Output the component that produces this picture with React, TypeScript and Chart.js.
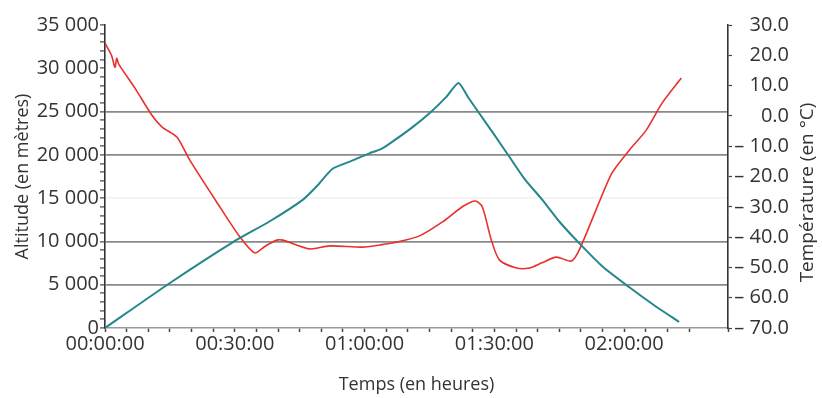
import React, { useEffect, useRef } from "react";
import { Chart, registerables } from "chart.js";

Chart.register(...registerables);

// Altitude series (time in minutes, altitude in metres)
const altTimes = [0, 15.0, 29.5, 38, 45.7, 49, 52.6, 57, 61.2, 63.5, 65.8, 71.1, 75, 78.9, 81.7, 84, 86.5, 90, 93.5, 97, 101.1, 105, 109.6, 115, 121.2, 127, 132.7];
const altValues = [0, 5200, 9900, 12300, 14800, 16400, 18400, 19300, 20200, 20600, 21300, 23200, 24800, 26700, 28300, 26600, 24800, 22300, 19750, 17200, 14800, 12300, 9800, 7100, 4700, 2600, 700];

// Temperature series (time in minutes, °C)
const tempTimes = [0, 1.5, 2.3, 2.7, 3.2, 7, 10.8, 13.2, 16.6, 19.6, 25.8, 31.2, 34.6, 37, 39.7, 41.1, 47.3, 51.9, 59.5, 63.5, 67, 72.7, 78, 82.6, 85.6, 87.2, 89.3, 91.2, 95.1, 98.1, 101, 104.3, 107.8, 109.6, 113.5, 117.2, 121.2, 125.1, 128.8, 133.2];
const tempValues = [24, 20, 16, 19, 17, 9, 0.3, -3.7, -7, -14.6, -28.4, -40, -45.2, -43, -41, -41, -43.9, -42.9, -43.3, -42.6, -41.8, -39.6, -35, -30, -28.1, -30, -41, -47.6, -50.2, -50.2, -48.5, -46.6, -47.9, -44.3, -31, -18.8, -11.3, -4.7, 4.3, 12.5];

const xLabelMinutes = [0, 30, 60, 90, 120];
const altGridValues = [5000, 10000, 20000, 25000];
const altFaintGrid = [15000];

const FONT = "'Open Sans', 'DejaVu Sans', sans-serif";
const TEXT = "#333333";

function fmtTime(m: number): string {
  const h = Math.floor(m / 60);
  const mm = Math.round(m % 60);
  const p = (n: number) => (n < 10 ? "0" + n : "" + n);
  return `${p(h)}:${p(mm)}:00`;
}

function fmtAlt(v: number): string {
  if (v === 0) return "0";
  return `${Math.round(v / 1000)} 000`;
}

function fmtTemp(v: number): string {
  if (v === 0) return "0.0";
  if (v > 0) return v.toFixed(1);
  return "– " + (-v).toFixed(1);
}

const rightTitlePlugin = {
  id: "rightTitle",
  afterDraw(chart: any) {
    const { ctx, chartArea } = chart;
    ctx.save();
    ctx.font = `19px ${FONT}`;
    ctx.fillStyle = TEXT;
    ctx.textAlign = "center";
    ctx.textBaseline = "middle";
    ctx.translate(chart.width - 14, (chartArea.top + chartArea.bottom) / 2 + 16);
    ctx.rotate(-Math.PI / 2);
    ctx.fillText("Température (en °C)", 0, 0);
    ctx.restore();
  },
};

export default function App() {
  const ref = useRef<HTMLCanvasElement>(null);

  useEffect(() => {
    document.body.style.margin = "0";
    const canvas = ref.current;
    if (!canvas) return;
    const chart = new Chart(canvas, {
      type: "line",
      data: {
        datasets: [
          {
            label: "Altitude",
            data: altTimes.map((t, i) => ({ x: t, y: altValues[i] })),
            borderColor: "#23878c",
            borderWidth: 2,
            pointRadius: 0,
            tension: 0.2,
            yAxisID: "y",
          },
          {
            label: "Température",
            data: tempTimes.map((t, i) => ({ x: t, y: tempValues[i] })),
            borderColor: "#e8302e",
            borderWidth: 1.6,
            pointRadius: 0,
            tension: 0.25,
            yAxisID: "y1",
          },
        ],
      },
      options: {
        responsive: false,
        animation: false,
        layout: { padding: { top: 25, left: 0, right: 33, bottom: 0 } },
        plugins: {
          legend: { display: false },
          tooltip: { enabled: false },
        },
        scales: {
          x: {
            type: "linear",
            position: "bottom",
            min: 0,
            max: 144,
            afterFit(scale: any) {
              scale.height = 70;
            },
            ticks: {
              stepSize: 5,
              autoSkip: false,
              maxRotation: 0,
              padding: 0,
              color: TEXT,
              font: { family: FONT, size: 20 },
              callback: (v: any) => (xLabelMinutes.includes(Number(v)) ? fmtTime(Number(v)) : ""),
            },
            grid: {
              drawOnChartArea: false,
              tickLength: 4,
              tickColor: "#444",
              tickWidth: 1.5,
            },
            border: { color: "#9a9a9a", width: 1.5, dash: [2, 3] },
            title: {
              display: true,
              text: "Temps (en heures)",
              color: TEXT,
              font: { family: FONT, size: 18 },
              padding: { top: 0, bottom: 2 },
            },
          },
          y: {
            type: "linear",
            position: "left",
            min: 0,
            max: 35000,
            afterFit(scale: any) {
              scale.width = 105;
            },
            ticks: {
              stepSize: 1000,
              autoSkip: false,
              padding: 1,
              color: TEXT,
              font: { family: FONT, size: 20 },
              callback: (v: any) => (Number(v) % 5000 === 0 ? fmtAlt(Number(v)) : ""),
            },
            grid: {
              color: (c: any) => {
                const v = c.tick ? c.tick.value : null;
                if (altGridValues.includes(v)) return "#8a8a8a";
                if (altFaintGrid.includes(v)) return "rgba(0,0,0,0.05)";
                return "rgba(0,0,0,0)";
              },
              lineWidth: 1.8,
              tickColor: "#444",
              tickLength: 5,
              tickWidth: 1.2,
            },
            border: { color: "#333", width: 1.6 },
            title: {
              display: true,
              text: "Altitude (en mètres)",
              color: TEXT,
              font: { family: FONT, size: 18 },
              padding: { top: 12, bottom: 0 },
            },
          },
          y1: {
            type: "linear",
            position: "right",
            min: -70,
            max: 30,
            afterFit(scale: any) {
              scale.width = 61;
            },
            ticks: {
              stepSize: 10,
              autoSkip: false,
              crossAlign: "far",
              padding: 2,
              color: TEXT,
              font: { family: FONT, size: 20 },
              callback: (v: any) => fmtTemp(Number(v)),
            },
            grid: {
              drawOnChartArea: false,
              tickLength: 4,
              tickColor: "#444",
              tickWidth: 1.2,
            },
            border: { color: "#333", width: 1.6 },
          },
        },
      },
      plugins: [rightTitlePlugin],
    } as any);
    return () => chart.destroy();
  }, []);

  return (
    <div style={{ width: 822, height: 398, background: "#fff" }}>
      <canvas ref={ref} width={822} height={398} />
    </div>
  );
}
